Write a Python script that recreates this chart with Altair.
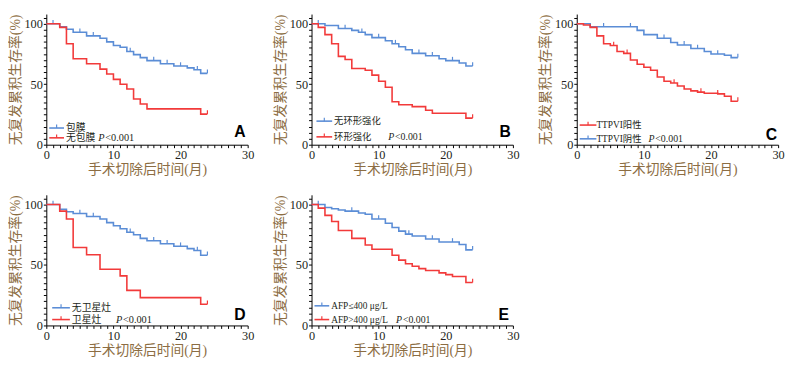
import altair as alt
import pandas as pd

BLUE = "#5b8dd6"
RED = "#f23a3a"
TITLE_C = "#8c6d43"
INK = "#231f20"
MIX = "Liberation Serif, Noto Sans CJK SC"

W, H = 205, 133

# ---------------- data ----------------
A_blue_t = [0, 2, 3, 4, 6, 8, 9, 10, 11, 12, 13, 14, 15, 17, 19, 21, 22, 23, 24]
A_blue_s = [100, 97.5, 95.5, 93, 90, 88, 85, 82, 80.5, 77, 74.5, 72, 69.5, 67, 65, 63.5, 62, 59, 59]
A_blue_c = [1, 5, 7, 12.5, 16, 18, 20, 22.5, 24]
A_red_t = [0, 2, 3, 4, 6, 8, 9, 10, 11, 12, 13, 14, 15, 23, 24]
A_red_s = [100, 97, 83.5, 71, 67, 62.5, 58.5, 54, 50, 46, 37.8, 33.7, 29.6, 25.3, 25.3]
A_red_c = [24]

B_blue_t = [0, 2, 4, 6, 7, 8, 9, 11, 12, 13, 14, 15, 17, 19, 20, 22, 23, 24]
B_blue_s = [100, 98.5, 96, 94.5, 93, 91, 88.5, 86, 83.5, 81, 78.5, 75.5, 73.5, 71, 69.5, 67.5, 65, 65]
B_blue_c = [1, 5, 7.5, 10, 12.5, 16, 18, 21, 24]
B_red_t = [0, 1, 2, 3, 4, 5, 6, 8, 9, 10, 11, 12, 13, 15, 17, 18, 23, 24]
B_red_s = [100, 97, 91, 83.5, 73, 70.5, 63, 61.5, 57.5, 52.5, 47.5, 35.5, 33, 31.5, 28.5, 26, 22, 22]
B_red_c = [24]

C_blue_t = [0, 2, 9, 10, 12, 14, 15, 17, 19, 20, 22, 23, 24]
C_blue_s = [100, 97.5, 94.5, 91, 88, 84.5, 82.5, 79.5, 77, 75, 74, 72, 72]
C_blue_c = [4, 8, 13, 16, 18, 21, 24]
C_red_t = [0, 1, 2, 3, 4, 5, 6, 7, 8, 9, 10, 11, 12, 13, 14, 15, 16, 17, 18, 19, 21, 22, 23, 24]
C_red_s = [100, 99, 97, 90, 83.5, 82, 77, 75.5, 70, 66.5, 64, 61.5, 56, 52.5, 51, 48.5, 46, 44.5,
           43.5, 42.5, 42, 40, 36, 36]
C_red_c = [5.5, 7.5, 14.5, 18.5, 21, 24]

D_blue_t = [0, 2, 3, 4, 6, 8, 9, 10, 11, 12, 13, 14, 15, 17, 19, 21, 22, 23, 24]
D_blue_s = [100, 96, 94, 92.5, 90, 88, 85, 82.5, 80, 77, 75, 72, 70, 67.5, 65.5, 63.5, 62, 58, 58]
D_blue_c = [1, 5, 7, 12.5, 16, 18, 20, 22.5, 24]
D_red_t = [0, 2, 3, 4, 6, 8, 11, 12, 14, 23, 24]
D_red_s = [100, 94.5, 88, 64.5, 58.5, 46.5, 41, 29, 23, 17.5, 17.5]
D_red_c = [24]

E_blue_t = [0, 2, 3, 4, 5, 7, 8, 9, 11, 12, 13, 14, 15, 17, 19, 22, 23, 24]
E_blue_s = [100, 97.5, 96.5, 95.5, 94.5, 93, 92, 88, 84.5, 81, 78, 75.5, 74, 71.5, 69, 67, 62.5, 62.5]
E_blue_c = [1, 6, 10, 14.5, 18, 21, 24]
E_red_t = [0, 1, 2, 3, 4, 6, 8, 9, 12, 13, 14, 15, 16, 17, 19, 20, 21, 23, 24]
E_red_s = [100, 97, 91, 86, 78.5, 72, 66.5, 63, 58, 54, 51, 49, 47, 45.5, 43.5, 42, 40.5, 35.5, 35.5]
E_red_c = [24]

A_labels = ["包膜", "无包膜"]
B_labels = ["无环形强化", "环形强化"]
C_labels = ["TTPVI阳性", "TTPVI阴性"]
D_labels = ["无卫星灶", "卫星灶"]
E_labels = ["AFP≤400 μg/L", "AFP>400 μg/L"]

X_TITLE = "手术切除后时间(月)"
Y_TITLE = "无复发累积生存率(%)"
X_TICKS = list(range(0, 31))
Y_TICKS = list(range(0, 106, 5))


def step_value(ts, ss, x):
    v = ss[0]
    for t, s in zip(ts, ss):
        if t <= x:
            v = s
    return v


X = alt.X("t:Q", scale=alt.Scale(domain=[0, 30], nice=False, zero=True),
          axis=alt.Axis(values=X_TICKS, labelExpr="datum.value % 10 == 0 ? datum.label : ''",
                        title=X_TITLE, grid=False, tickSize=3, tickColor="black", domainColor="black",
                        domainWidth=1, tickWidth=1, labelFont="Liberation Serif", labelFontSize=12.5,
                        labelColor=INK, labelPadding=1, labelOverlap=False, labelFlush=False,
                        titleFont=MIX, titleFontSize=14, titleFontWeight="normal",
                        titleColor=TITLE_C, titlePadding=2))
Y = alt.Y("s:Q", scale=alt.Scale(domain=[0, 108], nice=False, zero=True),
          axis=alt.Axis(values=Y_TICKS, labelExpr="datum.value % 50 == 0 ? datum.label : ''",
                        title=Y_TITLE, grid=False, tickSize=3, tickColor="black", domainColor="black",
                        domainWidth=1, tickWidth=1, labelFont="Liberation Serif", labelFontSize=12.5,
                        labelColor=INK, labelPadding=1, labelOverlap=False, labelFlush=False,
                        titleFont=MIX, titleFontSize=14, titleFontWeight="normal",
                        titleColor=TITLE_C, titlePadding=2))


def curve(color, ts, ss, cens):
    df = pd.DataFrame({"t": ts, "s": ss})
    line = alt.Chart(df).mark_line(interpolate="step-after", color=color, strokeWidth=1.6).encode(x=X, y=Y)
    cdf = pd.DataFrame({"t": cens, "s": [step_value(ts, ss, c) for c in cens]})
    pts = alt.Chart(cdf).mark_point(shape="M0,0L0,-1", size=60, color=color, strokeWidth=1.2,
                                    opacity=1).encode(x=X, y=Y)
    return [line, pts]


def legend_entry(label, color, x0, x1, xt, y, fs):
    base = alt.Chart(pd.DataFrame({"label": [label]}))
    rule = base.mark_rule(color=color, strokeWidth=1.6).encode(
        x=alt.value(x0), x2=alt.value(x1), y=alt.value(y))
    tick = base.mark_rule(color=color, strokeWidth=1.2).encode(
        x=alt.value((x0 + x1) / 2), y=alt.value(y - 3.5), y2=alt.value(y))
    txt = base.mark_text(align="left", baseline="middle", font=MIX, fontSize=fs, color=INK).encode(
        x=alt.value(xt), y=alt.value(y), text="label:N")
    return [rule, tick, txt]


def p_text(xp, y, fs):
    base = alt.Chart(pd.DataFrame({"k": [0]}))
    p = base.mark_text(text="P", fontStyle="italic", align="left", baseline="middle",
                       font="Liberation Serif", fontSize=fs + 0.5, color=INK).encode(
        x=alt.value(xp), y=alt.value(y))
    rest = base.mark_text(text="<0.001", align="left", baseline="middle",
                          font="Liberation Serif", fontSize=fs + 0.5, color=INK).encode(
        x=alt.value(xp + 7), y=alt.value(y))
    return [p, rest]


def letter_mark(letter, dx, dy):
    base = alt.Chart(pd.DataFrame({"k": [0]}))
    return [base.mark_text(text=letter, align="right", baseline="alphabetic", font="Liberation Sans",
                           fontWeight="bold", fontSize=16, color="black").encode(
        x=alt.value(W - dx), y=alt.value(H - dy))]


def panel(curves, entries, rows, lx, p_x, letter, ldx, ldy, fs=10):
    layers = []
    for c in curves:
        layers += curve(*c)
    for (label, color), y in zip(entries, rows):
        layers += legend_entry(label, color, lx[0], lx[1], lx[2], y, fs)
    layers += p_text(p_x, rows[1], fs)
    layers += letter_mark(letter, ldx, ldy)
    return alt.layer(*layers).properties(width=W, height=H)


pA = panel([(BLUE, A_blue_t, A_blue_s, A_blue_c), (RED, A_red_t, A_red_s, A_red_c)],
           [(A_labels[0], BLUE), (A_labels[1], RED)], [H - 17, H - 7], (3, 18, 20), 53, "A", 2, 8)
pB = panel([(BLUE, B_blue_t, B_blue_s, B_blue_c), (RED, B_red_t, B_red_s, B_red_c)],
           [(B_labels[0], BLUE), (B_labels[1], RED)], [H - 24, H - 8], (5, 21, 23), 78, "B", 2, 8, fs=9.5)
pC = panel([(BLUE, C_blue_t, C_blue_s, C_blue_c), (RED, C_red_t, C_red_s, C_red_c)],
           [(C_labels[0], RED), (C_labels[1], BLUE)], [H - 20, H - 6], (3, 20, 20), 73, "C", 1, 5, fs=9.5)
pD = panel([(BLUE, D_blue_t, D_blue_s, D_blue_c), (RED, D_red_t, D_red_s, D_red_c)],
           [(D_labels[0], BLUE), (D_labels[1], RED)], [H - 18, H - 6], (6, 24, 26), 71, "D", 2, 6)
pE = panel([(BLUE, E_blue_t, E_blue_s, E_blue_c), (RED, E_red_t, E_red_s, E_red_c)],
           [(E_labels[0], BLUE), (E_labels[1], RED)], [H - 20, H - 6], (3, 18, 20), 86, "E", 4, 6, fs=9.5)

row1 = alt.hconcat(pA, pB, pC, spacing=19)
row2 = alt.hconcat(pD, pE, spacing=19)
chart = alt.vconcat(row1, row2, spacing=15).properties(padding=0).configure_view(stroke=None)

chart.save("out.html", embed_options={"renderer": "svg", "actions": False})
